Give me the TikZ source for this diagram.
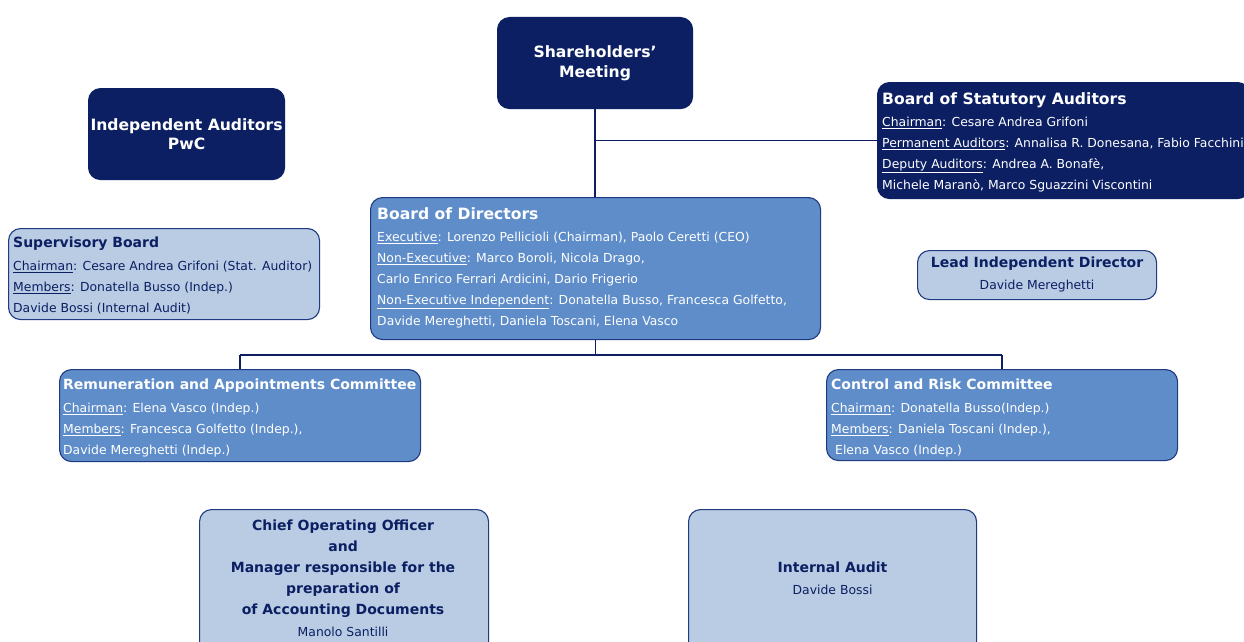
\documentclass[tikz,border=0pt]{standalone}
\usepackage{fontspec}
\setmainfont{DejaVu Sans}
\definecolor{navy}{HTML}{0B1F62}
\definecolor{midblue}{HTML}{5E8DC9}
\definecolor{lightblue}{HTML}{B9CCE4}
\definecolor{edge}{HTML}{1F3A80}
\newcommand{\ttl}[1]{{\fontsize{14}{21}\selectfont\bfseries #1}}
\newcommand{\bttl}[1]{{\fontsize{15.6}{21}\selectfont\bfseries #1}}
\newcommand{\ul}[1]{\underline{#1}}
\begin{document}
\begin{tikzpicture}[x=1pt,y=-1pt,
  box/.style={draw=edge, line width=1.1pt, rounded corners=12pt, inner sep=0pt, anchor=north west},
  darkbox/.style={box, fill=navy, draw=navy, text=white},
  midbox/.style={box, fill=midblue},
  lightbox/.style={box, fill=lightblue},
  txt/.style={inner sep=0pt, anchor=north west, align=left, font=\fontsize{12.4}{21}\selectfont},
  wtxt/.style={txt, text=white},
  ntxt/.style={txt, text=navy},
  conn/.style={draw=navy, line width=1.5pt}]
\useasboundingbox (0,0) rectangle (1244,642);
\fill[white] (0,0) rectangle (1244,642);
\clip (0,0) rectangle (1244,642);

% boxes
\node[darkbox, minimum width=195pt, minimum height=91pt, align=center, font=\fontsize{15.6}{20}\selectfont\bfseries] (sh) at (497,17) {Shareholders'\\Meeting};
\node[darkbox, minimum width=196pt, minimum height=91pt, align=center, font=\fontsize{15.6}{19}\selectfont\bfseries] (ia) at (88,88) {Independent Auditors\\PwC};
\node[darkbox, minimum width=372pt, minimum height=116pt] (bsa) at (877,82) {};
\node[lightbox, minimum width=311pt, minimum height=91pt] (sb) at (8,228) {};
\node[midbox, minimum width=450pt, minimum height=142pt] (bod) at (370,197) {};
\node[lightbox, minimum width=239pt, minimum height=49pt] (lid) at (917,250) {};
\node[midbox, minimum width=361pt, minimum height=92pt] (rem) at (59,369) {};
\node[midbox, minimum width=351pt, minimum height=91pt] (crc) at (826,369) {};
\node[lightbox, minimum width=289pt, minimum height=150pt] (coo) at (199,509) {};
\node[lightbox, minimum width=288pt, minimum height=150pt] (iau) at (688,509) {};

% connectors
\draw[conn] (sh.south) -- (sh.south |- bod.north);
\draw[conn] (sh.south |- bsa.west) -- (bsa.west);
\coordinate (j) at ([yshift=-15pt]bod.south);
\draw[conn] (bod.south) -- (j);
\draw[conn] (rem.north |- j) -- (crc.north |- j);
\draw[conn] (rem.north |- j) -- (rem.north);
\draw[conn] (crc.north |- j) -- (crc.north);

% texts
\node[wtxt] (bsat) at ([xshift=5pt,yshift=-10.5pt]bsa.north west) {\bttl{Board of Statutory Auditors}\\[1pt]
\ul{Chairman}: Cesare Andrea Grifoni\\
\ul{Permanent Auditors}: Annalisa R. Donesana, Fabio Facchini\\
\ul{Deputy Auditors}: Andrea A. Bonafè,\\
Michele Maranò, Marco Sguazzini Viscontini};

\node[ntxt] (sbt) at ([xshift=5pt,yshift=-9pt]sb.north west) {\ttl{Supervisory Board}\\[2pt]
\ul{Chairman}: Cesare Andrea Grifoni (Stat. Auditor)\\
\ul{Members}: Donatella Busso (Indep.)\\
Davide Bossi (Internal Audit)};

\node[wtxt] (bodt) at ([xshift=7pt,yshift=-10.5pt]bod.north west) {\bttl{Board of Directors}\\[1pt]
\ul{Executive}: Lorenzo Pellicioli (Chairman), Paolo Ceretti (CEO)\\
\ul{Non-Executive}: Marco Boroli, Nicola Drago,\\
Carlo Enrico Ferrari Ardicini, Dario Frigerio\\
\ul{Non-Executive Independent}: Donatella Busso, Francesca Golfetto,\\
Davide Mereghetti, Daniela Toscani, Elena Vasco};

\node[ntxt, anchor=north, align=center] (lidt) at ([yshift=-7pt]lid.north) {\ttl{Lead Independent Director}\\[1pt]
Davide Mereghetti};

\node[wtxt] (remt) at ([xshift=4pt,yshift=-9.5pt]rem.north west) {\ttl{Remuneration and Appointments Committee}\\[2pt]
\ul{Chairman}: Elena Vasco (Indep.)\\
\ul{Members}: Francesca Golfetto (Indep.),\\
Davide Mereghetti (Indep.)};

\node[wtxt] (crct) at ([xshift=5pt,yshift=-9.5pt]crc.north west) {\ttl{Control and Risk Committee}\\[2pt]
\ul{Chairman}: Donatella Busso(Indep.)\\
\ul{Members}: Daniela Toscani (Indep.),\\
\hspace*{4pt}Elena Vasco (Indep.)};

\node[ntxt, anchor=north, align=center] (coot) at ([xshift=-1pt,yshift=-11pt]coo.north) {\ttl{Chief Operating Officer}\\
\ttl{and}\\
\ttl{Manager responsible for the}\\
\ttl{preparation of}\\
\ttl{of Accounting Documents}\\[0.5pt]
Manolo Santilli};

\node[ntxt, anchor=north, align=center] (iaut) at ([yshift=-53pt]iau.north) {\ttl{Internal Audit}\\[1pt]
Davide Bossi};
\end{tikzpicture}
\end{document}
